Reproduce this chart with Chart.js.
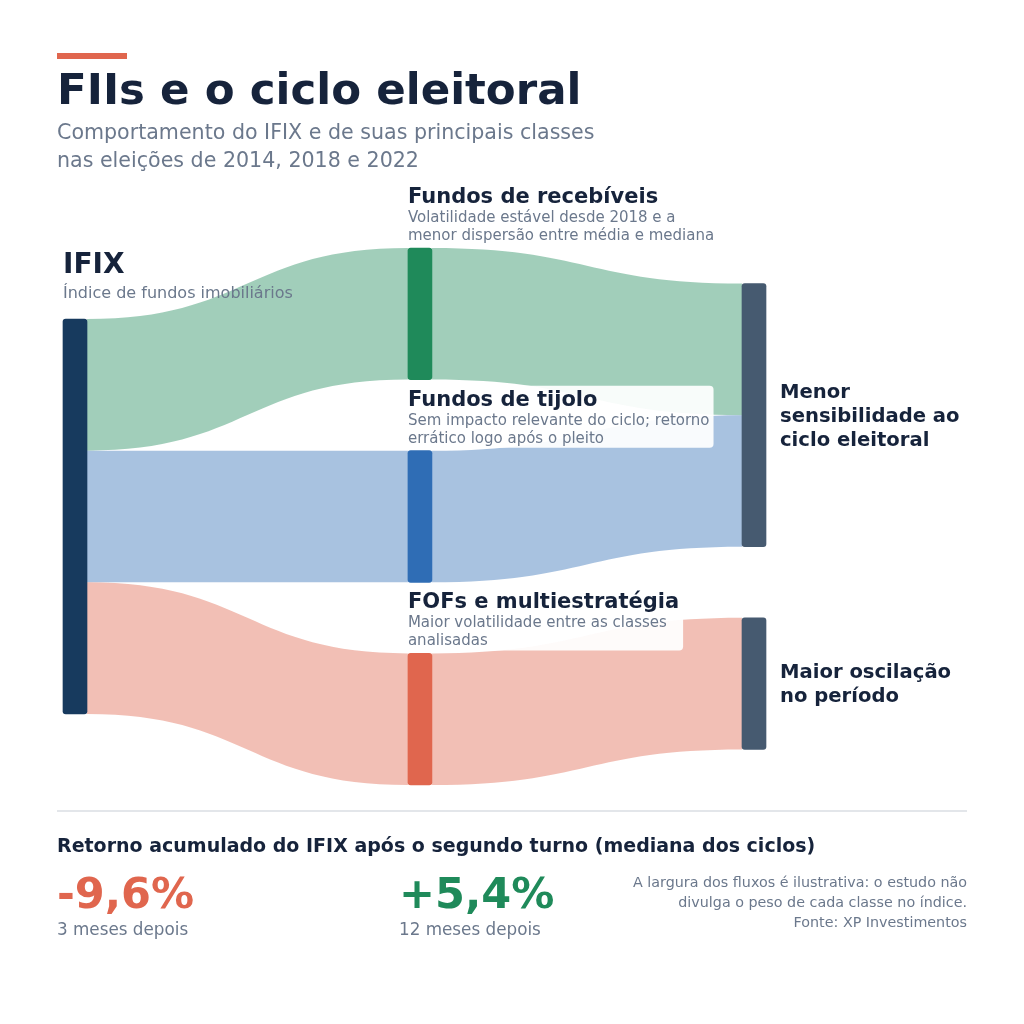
<!DOCTYPE html>
<html>
<head>
<meta charset="utf-8">
<script src="https://cdn.jsdelivr.net/npm/chart.js@4"></script>
<style>
  html, body { margin: 0; padding: 0; background: #fff; }
  body { width: 1024px; height: 1024px; position: relative; overflow: hidden; font-family: 'DejaVu Sans', sans-serif; }
  #wrap { position: absolute; left: 0; top: 0; width: 1024px; height: 1024px; }
  .t { position: absolute; white-space: nowrap; z-index: 2; }
  .accent { position: absolute; left: 57px; top: 53px; width: 70px; height: 6px; background: #e0664e; }
  .title { left: 57px; top: 67px; font-size: 43.5px; line-height: 44px; font-weight: bold; color: #16233b; }
  .sub { left: 57px; top: 118px; font-size: 20.6px; line-height: 28px; color: #6b788c; }
  .rule { position: absolute; left: 57px; top: 810px; width: 910px; height: 2px; background: #e3e6ea; }
  .kpihead { left: 57px; top: 836px; font-size: 19px; line-height: 19px; font-weight: bold; color: #16233b; }
  .big { top: 871px; font-size: 43px; line-height: 44px; font-weight: bold; }
  .cap { top: 921px; font-size: 16.8px; line-height: 16px; color: #6b788c; }
  .note { right: 57px; top: 872px; font-size: 14.3px; line-height: 20px; color: #6b788c; text-align: right; }
</style>
</head>
<body>
<div id="wrap"><canvas id="sankey" width="1024" height="1024"></canvas></div>
<div class="accent"></div>
<div class="t title">FIIs e o ciclo eleitoral</div>
<div class="t sub">Comportamento do IFIX e de suas principais classes<br>nas eleições de 2014, 2018 e 2022</div>
<div class="rule"></div>
<div class="t kpihead">Retorno acumulado do IFIX após o segundo turno (mediana dos ciclos)</div>
<div class="t big" id="k0" style="left:57px;color:#e0664e"></div>
<div class="t cap" id="c0" style="left:57px"></div>
<div class="t big" id="k1" style="left:399px;color:#1f8a5a"></div>
<div class="t cap" id="c1" style="left:399px"></div>
<div class="t note">A largura dos fluxos é ilustrativa: o estudo não<br>divulga o peso de cada classe no índice.<br>Fonte: XP Investimentos</div>
<script>
// nodes of the sankey
var nodeNames = ['IFIX', 'Fundos de recebíveis', 'Fundos de tijolo', 'FOFs e multiestratégia',
                 'Menor sensibilidade ao ciclo eleitoral', 'Maior oscilação no período'];
var nodeColumn = [0, 1, 1, 1, 2, 2];
var nodeNotes = [
  ['Índice de fundos imobiliários'],
  ['Volatilidade estável desde 2018 e a', 'menor dispersão entre média e mediana'],
  ['Sem impacto relevante do ciclo; retorno', 'errático logo após o pleito'],
  ['Maior volatilidade entre as classes', 'analisadas'],
  [], []
];
var rightLines = {4: ['Menor', 'sensibilidade ao', 'ciclo eleitoral'], 5: ['Maior oscilação', 'no período']};
var nodeColors = ['#173a5e', '#1f8a5a', '#2f6db5', '#e0664e', '#465a70', '#465a70'];

// flows (illustrative equal widths)
var linkSource = [0, 0, 0, 1, 2, 3];
var linkTarget = [1, 2, 3, 4, 4, 5];
var linkValue  = [1, 1, 1, 1, 1, 1];

// summary numbers
var kpiValues = ['-9,6%', '+5,4%'];
var kpiLabels = ['3 meses depois', '12 meses depois'];

document.getElementById('k0').textContent = kpiValues[0];
document.getElementById('k1').textContent = kpiValues[1];
document.getElementById('c0').textContent = kpiLabels[0];
document.getElementById('c1').textContent = kpiLabels[1];

// layout
var PAD = 0.54, NODE_W = 24;
var COL_X = [0, 1.016, 2];
var FONT = "'DejaVu Sans', sans-serif";

// simple sankey layout: node size = max(in,out), columns centered
var nodeVal = nodeNames.map(function(n, i){
  var inn = 0, out = 0;
  for (var k = 0; k < linkValue.length; k++) {
    if (linkTarget[k] === i) inn += linkValue[k];
    if (linkSource[k] === i) out += linkValue[k];
  }
  return Math.max(inn, out);
});
var colTotal = [0, 0, 0], colCount = [0, 0, 0];
nodeVal.forEach(function(v, i){ colTotal[nodeColumn[i]] += v; colCount[nodeColumn[i]]++; });
colTotal = colTotal.map(function(t, c){ return t + (colCount[c] - 1) * PAD; });
var maxTotal = Math.max.apply(null, colTotal);
var cursor = colTotal.map(function(t){ return (maxTotal - t) / 2; });
var nodeY0 = [], nodeY1 = [];
nodeVal.forEach(function(v, i){
  var c = nodeColumn[i];
  nodeY0[i] = cursor[c]; nodeY1[i] = cursor[c] + v;
  cursor[c] += v + PAD;
});
var outPos = nodeY0.slice(), inPos = nodeY0.slice();
var links = linkValue.map(function(v, k){
  var s = linkSource[k], t = linkTarget[k];
  var l = {s: s, t: t, sy0: outPos[s], sy1: outPos[s] + v, ty0: inPos[t], ty1: inPos[t] + v};
  outPos[s] += v; inPos[t] += v;
  l.color = nodeColumn[s] === 1 ? nodeColors[s] : nodeColors[t];
  return l;
});

function alpha(hex, a){
  var n = parseInt(hex.slice(1), 16);
  return 'rgba(' + (n >> 16) + ',' + ((n >> 8) & 255) + ',' + (n & 255) + ',' + a + ')';
}

var flowPlugin = {
  id: 'flows',
  beforeDatasetsDraw: function(chart){
    var ctx = chart.ctx, xs = chart.scales.x, ys = chart.scales.y;
    links.forEach(function(l){
      var x0 = xs.getPixelForValue(COL_X[nodeColumn[l.s]]) + NODE_W / 2;
      var x1 = xs.getPixelForValue(COL_X[nodeColumn[l.t]]) - NODE_W / 2;
      var xm = (x0 + x1) / 2;
      var a0 = ys.getPixelForValue(l.sy0), a1 = ys.getPixelForValue(l.sy1);
      var b0 = ys.getPixelForValue(l.ty0), b1 = ys.getPixelForValue(l.ty1);
      ctx.save();
      ctx.beginPath();
      ctx.moveTo(x0, a0);
      ctx.bezierCurveTo(xm, a0, xm, b0, x1, b0);
      ctx.lineTo(x1, b1);
      ctx.bezierCurveTo(xm, b1, xm, a1, x0, a1);
      ctx.closePath();
      ctx.fillStyle = alpha(l.color, 0.42);
      ctx.fill();
      ctx.restore();
    });
  }
};

function roundRect(ctx, x, y, w, h, r){
  ctx.beginPath();
  ctx.moveTo(x + r, y);
  ctx.lineTo(x + w - r, y); ctx.quadraticCurveTo(x + w, y, x + w, y + r);
  ctx.lineTo(x + w, y + h - r); ctx.quadraticCurveTo(x + w, y + h, x + w - r, y + h);
  ctx.lineTo(x + r, y + h); ctx.quadraticCurveTo(x, y + h, x, y + h - r);
  ctx.lineTo(x, y + r); ctx.quadraticCurveTo(x, y, x + r, y);
  ctx.closePath();
}

var labelPlugin = {
  id: 'nodeLabels',
  afterDatasetsDraw: function(chart){
    var ctx = chart.ctx, xs = chart.scales.x, ys = chart.scales.y;
    ctx.save();
    ctx.textBaseline = 'alphabetic';
    ctx.textAlign = 'left';
    nodeNames.forEach(function(name, i){
      var c = nodeColumn[i];
      var left = xs.getPixelForValue(COL_X[c]) - NODE_W / 2;
      var top = ys.getPixelForValue(nodeY0[i]);
      var bottom = ys.getPixelForValue(nodeY1[i]);
      if (c === 0) {
        ctx.fillStyle = '#16233b';
        ctx.font = 'bold 28px ' + FONT;
        ctx.fillText(name, left, top - 46);
        ctx.fillStyle = '#6b788c';
        ctx.font = '16px ' + FONT;
        ctx.fillText(nodeNotes[i][0], left, top - 21);
      } else if (c === 1) {
        ctx.font = 'bold 21px ' + FONT;
        var w = ctx.measureText(name).width;
        ctx.font = '15px ' + FONT;
        nodeNotes[i].forEach(function(s){ w = Math.max(w, ctx.measureText(s).width); });
        ctx.fillStyle = 'rgba(255,255,255,0.93)';
        roundRect(ctx, left - 8, top - 65, w + 12, 62, 4);
        ctx.fill();
        ctx.fillStyle = '#16233b';
        ctx.font = 'bold 21px ' + FONT;
        ctx.fillText(name, left, top - 45);
        ctx.fillStyle = '#6b788c';
        ctx.font = '15px ' + FONT;
        ctx.fillText(nodeNotes[i][0], left, top - 26);
        ctx.fillText(nodeNotes[i][1], left, top - 8);
      } else {
        var lines = rightLines[i];
        var mid = (top + bottom) / 2;
        var x = left + NODE_W + 14;
        ctx.fillStyle = '#16233b';
        ctx.font = 'bold 19.6px ' + FONT;
        lines.forEach(function(s, k){
          ctx.fillText(s, x, mid + (k - (lines.length - 1) / 2) * 24 + 6.5);
        });
      }
    });
    ctx.restore();
  }
};

new Chart(document.getElementById('sankey'), {
  type: 'bar',
  data: {
    datasets: [{
      data: nodeNames.map(function(n, i){ return {x: COL_X[nodeColumn[i]], y: [nodeY0[i], nodeY1[i]]}; }),
      backgroundColor: nodeColors,
      barThickness: NODE_W,
      borderRadius: 3,
      borderSkipped: false,
      clip: false
    }]
  },
  options: {
    responsive: false,
    animation: false,
    events: [],
    layout: {padding: {left: 75, right: 270, top: 248, bottom: 239}},
    scales: {
      x: {type: 'linear', min: 0, max: 2, offset: false, display: false},
      y: {type: 'linear', min: 0, max: maxTotal, reverse: true, display: false}
    },
    plugins: {legend: {display: false}, tooltip: {enabled: false}}
  },
  plugins: [flowPlugin, labelPlugin]
});
</script>
</body>
</html>
